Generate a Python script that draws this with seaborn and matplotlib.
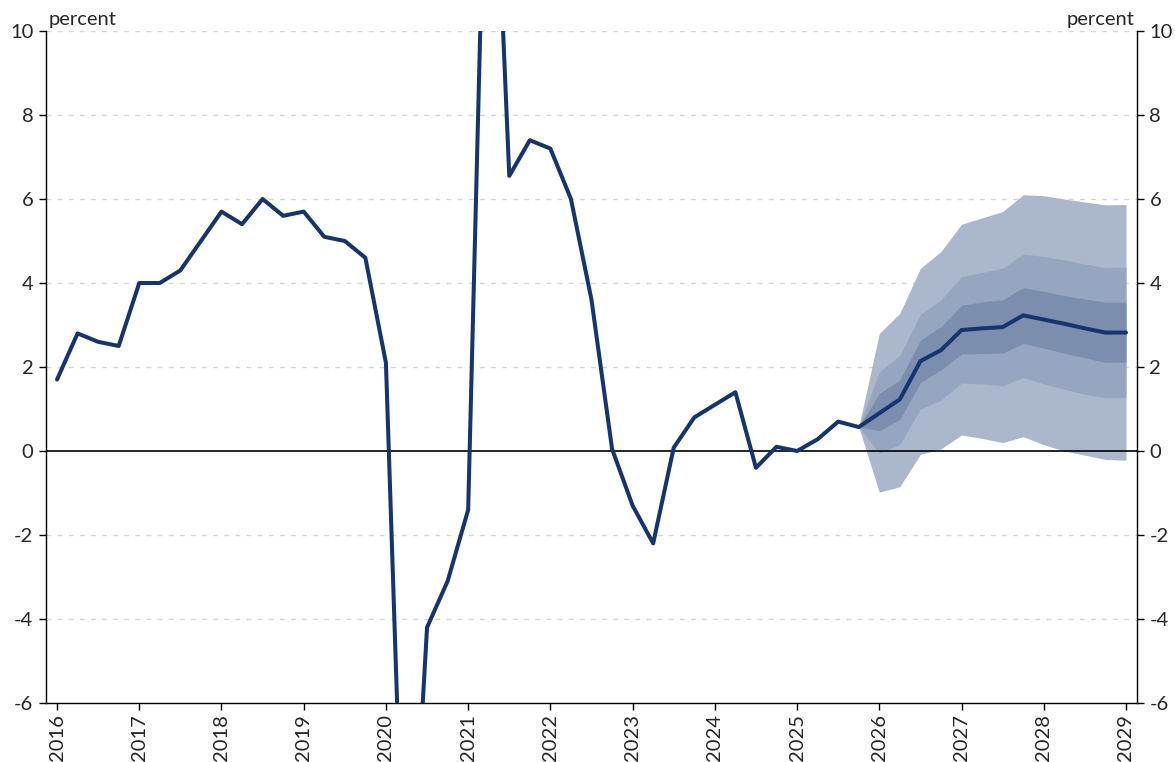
import matplotlib
matplotlib.use("Agg")
import matplotlib.pyplot as plt
import seaborn as sns
import pandas as pd
import numpy as np

# quarterly growth, 2016Q1 .. 2025Q4 (outturns)
history = [1.7, 2.8, 2.6, 2.5, 4.0, 4.0, 4.3, 5.0, 5.7, 5.4,
           6.0, 5.6, 5.7, 5.1, 5.0, 4.6, 2.1, -12.8, -4.2, -3.1,
           -1.4, 18.0, 6.55, 7.4, 7.2, 6.0, 3.6, 0.05, -1.3, -2.2,
           0.08, 0.8, 1.1, 1.4, -0.4, 0.1, 0.0, 0.28, 0.7, 0.57]

# projection 2025Q4 .. 2029Q1 (central path and fan bands)
central = [0.57, 0.9, 1.23, 2.14, 2.4, 2.88, 2.92, 2.95, 3.23, 3.13, 3.03, 2.92, 2.82, 2.82]
outer_hi = [0.57, 2.8, 3.28, 4.35, 4.75, 5.4, 5.55, 5.7, 6.1, 6.08, 6.0, 5.93, 5.86, 5.87]
outer_lo = [0.57, -0.98, -0.85, -0.08, 0.05, 0.38, 0.3, 0.2, 0.34, 0.15, 0.0, -0.1, -0.2, -0.22]
middle_hi = [0.57, 1.88, 2.28, 3.25, 3.6, 4.15, 4.25, 4.35, 4.69, 4.63, 4.55, 4.45, 4.37, 4.38]
middle_lo = [0.57, -0.05, 0.16, 1.0, 1.21, 1.62, 1.6, 1.55, 1.75, 1.6, 1.47, 1.35, 1.27, 1.27]
inner_hi = [0.57, 1.37, 1.69, 2.64, 2.96, 3.47, 3.55, 3.6, 3.89, 3.8, 3.7, 3.62, 3.54, 3.54]
inner_lo = [0.57, 0.48, 0.75, 1.63, 1.93, 2.31, 2.32, 2.33, 2.56, 2.45, 2.33, 2.22, 2.11, 2.12]

years = list(range(2016, 2030))
yticks = [-6, -4, -2, 0, 2, 4, 6, 8, 10]

navy = "#16346f"
band_colors = ["#abb7cc", "#96a5c0", "#7b8eae"]

sns.set_style("white")
plt.rcParams['font.family'] = ['Lato', 'DejaVu Sans']
plt.rcParams['axes.unicode_minus'] = False

values = history + central[1:]
df = pd.DataFrame({"date": 2016 + np.arange(len(values)) / 4, "value": values})
fc_x = 2016 + (len(history) - 1 + np.arange(len(central))) / 4

fig = plt.figure(figsize=(11.75, 7.62), dpi=100)
ax = fig.add_axes([46 / 1175, 1 - 703 / 762, (1137 - 46) / 1175, (703 - 31) / 762])

for (lo, hi), c in zip([(outer_lo, outer_hi), (middle_lo, middle_hi), (inner_lo, inner_hi)], band_colors):
    ax.fill_between(fc_x, lo, hi, color=c, lw=0, zorder=1)

for y in yticks:
    if y in (-6, 0):
        continue
    ax.axhline(y, color="#d4d4d4", lw=1, ls=(0, (3.5, 4.5)), zorder=0)
ax.axhline(0, color="black", lw=1.2, zorder=2)

sns.lineplot(data=df, x="date", y="value", ax=ax, color=navy, lw=2.9, zorder=3)

ax.set_xlim(2015.866, 2029.134)
ax.set_ylim(-6, 10)
ax.set_xticks(years)
ax.set_xticklabels([str(y) for y in years], rotation=90)
ax.set_yticks(yticks)
ax.set_xlabel("")
ax.set_ylabel("")

ax.tick_params(axis="y", left=True, right=True, labelleft=True, labelright=True,
               length=5, width=1, direction="out", pad=4, labelsize=14.5, color="black")
ax.tick_params(axis="x", bottom=True, length=5, width=1, direction="out", pad=3,
               labelsize=14.5, color="black")
for side in ["left", "right", "bottom"]:
    ax.spines[side].set_visible(True)
    ax.spines[side].set_color("black")
    ax.spines[side].set_linewidth(1)
ax.spines["top"].set_visible(False)

ax.text(0.002, 1.004, "percent", transform=ax.transAxes, ha="left", va="bottom", fontsize=14.5)
ax.text(0.998, 1.004, "percent", transform=ax.transAxes, ha="right", va="bottom", fontsize=14.5)

fig.savefig("out.png", dpi=100)
plt.close(fig)
